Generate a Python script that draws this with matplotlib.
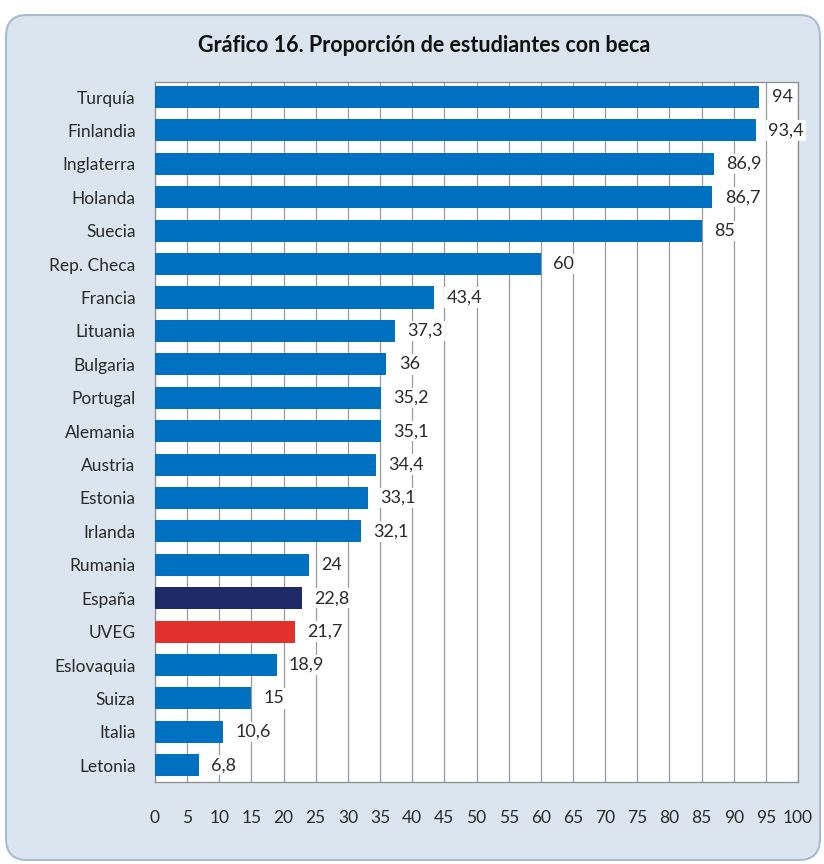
#!/usr/bin/env python3
import matplotlib
matplotlib.use("Agg")
import matplotlib.pyplot as plt
from matplotlib.patches import FancyBboxPatch

plt.rcParams['font.family'] = ['Lato', 'DejaVu Sans']

## Datos
paises = ["Turquía", "Finlandia", "Inglaterra", "Holanda", "Suecia", "Rep. Checa",
          "Francia", "Lituania", "Bulgaria", "Portugal", "Alemania", "Austria",
          "Estonia", "Irlanda", "Rumania", "España", "UVEG", "Eslovaquia",
          "Suiza", "Italia", "Letonia"]
valores = [94, 93.4, 86.9, 86.7, 85, 60, 43.4, 37.3, 36, 35.2, 35.1, 34.4,
           33.1, 32.1, 24, 22.8, 21.7, 18.9, 15, 10.6, 6.8]
etiquetas = ["94", "93,4", "86,9", "86,7", "85", "60", "43,4", "37,3", "36", "35,2",
             "35,1", "34,4", "33,1", "32,1", "24", "22,8", "21,7", "18,9", "15",
             "10,6", "6,8"]
ticks_x = list(range(0, 101, 5))

colores = []
for p in paises:
    if p == "España":
        colores.append("#1F2A68")
    elif p == "UVEG":
        colores.append("#E2302A")
    else:
        colores.append("#0070C0")

fig = plt.figure(figsize=(8.24, 8.64), dpi=100)
fig.patch.set_facecolor("white")

# caja redondeada de fondo
caja = FancyBboxPatch((6/824, 4/864), 814/824, 845/864,
                      boxstyle="round,pad=0,rounding_size=0.025",
                      transform=fig.transFigure, facecolor="#DAE5EF",
                      edgecolor="#A7BCD3", linewidth=1.5, zorder=-5)
fig.patches.append(caja)

ax = fig.add_axes([155/824, 82/864, 643/824, 700/864])
ax.set_zorder(2)
ax.set_facecolor("white")

y = list(range(len(paises)))
ax.barh(y, valores, height=0.66, color=colores, zorder=3)

for i in range(len(valores)):
    ax.text(valores[i] + 1.9, y[i], etiquetas[i], va="center", ha="left",
            fontsize=13, color="#2A2A2A", zorder=4,
            bbox=dict(facecolor="white", edgecolor="none", pad=1.5))

ax.set_xlim(0, 100)
ax.set_ylim(len(paises) - 0.5, -0.45)
ax.set_xticks(ticks_x)
ax.set_xticklabels([str(t) for t in ticks_x], fontsize=12.5, color="#2A2A2A")
ax.set_yticks(y)
ax.set_yticklabels(paises, fontsize=12.5, color="#2A2A2A")
ax.tick_params(axis="x", length=0, pad=20)
ax.tick_params(axis="y", length=0, pad=14)
ax.xaxis.grid(True, color="#999999", linewidth=0.9, zorder=0)
ax.set_axisbelow(True)
for s in ax.spines.values():
    s.set_color("#8C8C8C")
    s.set_linewidth(0.9)

fig.text(424/824, 1 - 45/864, "Gráfico 16. Proporción de estudiantes con beca",
         ha="center", va="center", fontsize=15.5, fontweight="bold", color="#111111")

plt.savefig("out.png", dpi=100)
